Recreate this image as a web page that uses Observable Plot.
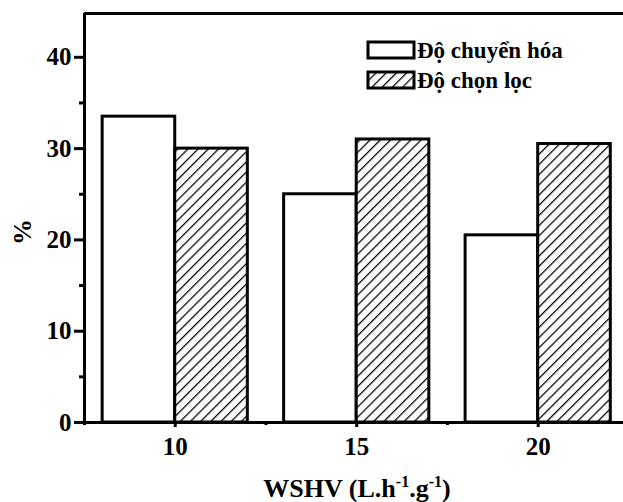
<!DOCTYPE html>
<html>
<head>
<meta charset="utf-8">
<script src="https://cdn.jsdelivr.net/npm/d3@7"></script>
<script src="https://cdn.jsdelivr.net/npm/@observablehq/plot@0.6"></script>
<style>
  html, body { margin: 0; padding: 0; background: #fff; }
  #chart svg { display: block; }
</style>
</head>
<body>
<div id="chart"></div>
<script>
// ---- data ----
const categories = [10, 15, 20];               // WSHV (L.h-1.g-1)
const conversion = [33.5, 25, 20.5];           // Độ chuyển hóa (%)
const selectivity = [30, 31, 30.5];            // Độ chọn lọc (%)
const seriesNames = ["Độ chuyển hóa", "Độ chọn lọc"];
const yTicks = [0, 10, 20, 30, 40];
const yMinorTicks = [5, 15, 25, 35];
const xTicks = [10, 15, 20];
const xMinorTicks = [7.5, 12.5, 17.5];
const xTitle = ["WSHV (L.h", "-1", ".g", "-1", ")"];
const yTitle = "%";

// ---- build tables ----
const barWidth = 2; // in x units
const convRows = categories.map((c, i) => ({cat: c, value: conversion[i], series: seriesNames[0]}));
const selRows = categories.map((c, i) => ({cat: c, value: selectivity[i], series: seriesNames[1]}));

const FONT = "'Liberation Serif', 'Times New Roman', serif";
const FS = 25;
const yMax = 44.8;

const chart = Plot.plot({
  width: 623,
  height: 502,
  marginLeft: 84,
  marginTop: 13,
  marginBottom: 80,
  marginRight: 0,
  x: {domain: [7.5, 22.35], label: null},
  y: {domain: [0, yMax], label: null},
  style: {fontFamily: FONT, fontWeight: "bold", fontSize: FS + "px", background: "#fff", color: "#000"},
  marks: [
    Plot.rectY(convRows, {x1: d => d.cat - barWidth, x2: d => d.cat, y1: 0, y2: "value",
      fill: "white", stroke: "black", strokeWidth: 3}),
    Plot.rectY(selRows, {x1: d => d.cat, x2: d => d.cat + barWidth, y1: 0, y2: "value",
      fill: "url(#hatch)", stroke: "black", strokeWidth: 3}),
    Plot.ruleX([7.5], {stroke: "black", strokeWidth: 3, insetBottom: -3}),
    Plot.ruleY([0], {stroke: "black", strokeWidth: 3}),
    Plot.ruleY([yMax], {stroke: "black", strokeWidth: 3}),
    Plot.axisY(yTicks, {tickSize: 10, tickPadding: 3, strokeWidth: 3, fontSize: FS, fontWeight: "bold", label: null}),
    Plot.axisY(yMinorTicks, {tickSize: 5, strokeWidth: 3, tickFormat: () => "", label: null}),
    Plot.axisX(xTicks, {tickSize: 5, tickPadding: 10, strokeWidth: 3, fontSize: FS, fontWeight: "bold", label: null}),
    Plot.axisX(xMinorTicks, {tickSize: 3, strokeWidth: 3, tickFormat: () => "", label: null})
  ]
});

document.getElementById("chart").appendChild(chart);

const svg = d3.select(chart);
// make sure tick marks are solid black and thick
svg.selectAll('g[aria-label$="tick"]').attr("stroke-width", 3).attr("stroke", "black");

// hatch pattern
const defs = svg.insert("defs", ":first-child");
defs.append("pattern")
  .attr("id", "hatch")
  .attr("patternUnits", "userSpaceOnUse")
  .attr("width", 7.2)
  .attr("height", 10)
  .attr("patternTransform", "rotate(45)")
  .call(p => p.append("rect").attr("width", 7.2).attr("height", 10).attr("fill", "white"))
  .call(p => p.append("line").attr("x1", 0.6).attr("x2", 0.6).attr("y1", 0).attr("y2", 10)
    .attr("stroke", "black").attr("stroke-width", 1.3));

// legend
const legend = svg.append("g").attr("font-family", FONT).attr("font-weight", "bold")
  .attr("font-size", 23).attr("text-anchor", "start");
const legendFills = ["white", "url(#hatch)"];
seriesNames.forEach((name, i) => {
  const y0 = 42 + i * 30;
  legend.append("rect").attr("x", 368).attr("y", y0).attr("width", 46).attr("height", 16)
    .attr("fill", legendFills[i]).attr("stroke", "black").attr("stroke-width", 3);
  legend.append("text").attr("x", 417).attr("y", y0 + 16).attr("text-anchor", "start").text(name);
});

// x title with superscripts
const xt = svg.append("text")
  .attr("x", 357).attr("y", 497)
  .attr("text-anchor", "middle")
  .attr("font-family", FONT).attr("font-weight", "bold").attr("font-size", 26);
xt.append("tspan").text(xTitle[0]);
xt.append("tspan").attr("dy", -10).attr("font-size", 16).text(xTitle[1]);
xt.append("tspan").attr("dy", 10).text(xTitle[2]);
xt.append("tspan").attr("dy", -10).attr("font-size", 16).text(xTitle[3]);
xt.append("tspan").attr("dy", 10).text(xTitle[4]);

// y title
svg.append("text")
  .attr("transform", "translate(31,232) rotate(-90)")
  .attr("text-anchor", "middle")
  .attr("font-family", FONT).attr("font-weight", "bold").attr("font-size", 26)
  .text(yTitle);
</script>
</body>
</html>
